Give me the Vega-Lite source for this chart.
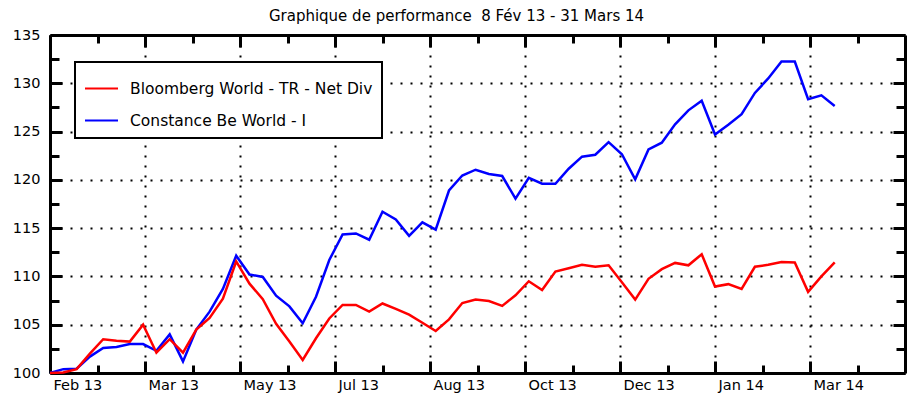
{
  "$schema": "https://vega.github.io/schema/vega-lite/v6.json",
  "width": 855,
  "height": 338,
  "autosize": "none",
  "padding": {"left": 50, "top": 35, "right": 10, "bottom": 34},
  "background": "white",
  "title": {"text": "Graphique de performance \u00a08 Fév 13 - 31 Mars 14", "font": "DejaVu Sans", "fontSize": 15, "fontWeight": "normal", "color": "black", "anchor": "middle", "offset": 3, "dx": -21},
  "datasets": {
    "perf": [
      {"date": "2013-02-08", "c": 100.0, "b": 100.0},
      {"date": "2013-02-15", "c": 100.4, "b": 100.05},
      {"date": "2013-02-22", "c": 100.45, "b": 100.4},
      {"date": "2013-03-01", "c": 101.7, "b": 102.0},
      {"date": "2013-03-08", "c": 102.6, "b": 103.5},
      {"date": "2013-03-15", "c": 102.7, "b": 103.35},
      {"date": "2013-03-22", "c": 103.0, "b": 103.25},
      {"date": "2013-03-29", "c": 103.0, "b": 105.0},
      {"date": "2013-04-05", "c": 102.3, "b": 102.1},
      {"date": "2013-04-12", "c": 104.0, "b": 103.5},
      {"date": "2013-04-19", "c": 101.2, "b": 102.1},
      {"date": "2013-04-26", "c": 104.5, "b": 104.5},
      {"date": "2013-05-03", "c": 106.35, "b": 105.7},
      {"date": "2013-05-10", "c": 108.7, "b": 107.7},
      {"date": "2013-05-17", "c": 112.15, "b": 111.55},
      {"date": "2013-05-24", "c": 110.2, "b": 109.25},
      {"date": "2013-05-31", "c": 109.95, "b": 107.65},
      {"date": "2013-06-07", "c": 108.0, "b": 105.1},
      {"date": "2013-06-14", "c": 106.9, "b": 103.25},
      {"date": "2013-06-21", "c": 105.15, "b": 101.35},
      {"date": "2013-06-28", "c": 107.9, "b": 103.6},
      {"date": "2013-07-05", "c": 111.7, "b": 105.65},
      {"date": "2013-07-12", "c": 114.35, "b": 107.05},
      {"date": "2013-07-19", "c": 114.45, "b": 107.05},
      {"date": "2013-07-26", "c": 113.8, "b": 106.35},
      {"date": "2013-08-02", "c": 116.7, "b": 107.2},
      {"date": "2013-08-09", "c": 115.9, "b": 106.65},
      {"date": "2013-08-16", "c": 114.2, "b": 106.05},
      {"date": "2013-08-23", "c": 115.6, "b": 105.2},
      {"date": "2013-08-30", "c": 114.85, "b": 104.35},
      {"date": "2013-09-06", "c": 118.9, "b": 105.55},
      {"date": "2013-09-13", "c": 120.45, "b": 107.25},
      {"date": "2013-09-20", "c": 121.05, "b": 107.6},
      {"date": "2013-09-27", "c": 120.6, "b": 107.45},
      {"date": "2013-10-04", "c": 120.4, "b": 106.95},
      {"date": "2013-10-11", "c": 118.05, "b": 108.05},
      {"date": "2013-10-18", "c": 120.2, "b": 109.5},
      {"date": "2013-10-25", "c": 119.6, "b": 108.6},
      {"date": "2013-11-01", "c": 119.6, "b": 110.5},
      {"date": "2013-11-08", "c": 121.15, "b": 110.85},
      {"date": "2013-11-15", "c": 122.4, "b": 111.2},
      {"date": "2013-11-22", "c": 122.6, "b": 111.0},
      {"date": "2013-11-29", "c": 123.9, "b": 111.15},
      {"date": "2013-12-06", "c": 122.65, "b": 109.4},
      {"date": "2013-12-13", "c": 120.05, "b": 107.6},
      {"date": "2013-12-20", "c": 123.15, "b": 109.75},
      {"date": "2013-12-27", "c": 123.85, "b": 110.75},
      {"date": "2014-01-03", "c": 125.75, "b": 111.4},
      {"date": "2014-01-10", "c": 127.2, "b": 111.15},
      {"date": "2014-01-17", "c": 128.2, "b": 112.3},
      {"date": "2014-01-24", "c": 124.7, "b": 108.95},
      {"date": "2014-01-31", "c": 125.7, "b": 109.2},
      {"date": "2014-02-07", "c": 126.8, "b": 108.7},
      {"date": "2014-02-14", "c": 129.0, "b": 111.0},
      {"date": "2014-02-21", "c": 130.5, "b": 111.2},
      {"date": "2014-02-28", "c": 132.25, "b": 111.5},
      {"date": "2014-03-07", "c": 132.25, "b": 111.45},
      {"date": "2014-03-14", "c": 128.35, "b": 108.4},
      {"date": "2014-03-21", "c": 128.75, "b": 110.0},
      {"date": "2014-03-28", "c": 127.65, "b": 111.45}
    ]
  },
  "data": {"name": "perf"},
  "transform": [
    {"fold": ["c", "b"], "as": ["key", "value"]},
    {"lookup": "key", "from": {"data": {"values": [{"key": "b", "series": "Bloomberg World - TR - Net Div"}, {"key": "c", "series": "Constance Be World - I"}]}, "key": "key", "fields": ["series"]}}
  ],
  "encoding": {
    "color": {
      "field": "series",
      "type": "nominal",
      "scale": {"domain": ["Bloomberg World - TR - Net Div", "Constance Be World - I"], "range": ["#ff0000", "#0000ff"]},
      "legend": {"title": null, "orient": "none", "legendX": 25, "legendY": 27, "direction": "vertical", "symbolType": "stroke", "symbolSize": 1089, "symbolStrokeWidth": 2, "labelFont": "DejaVu Sans", "labelFontSize": 15.5, "labelColor": "black", "labelOffset": 11, "padding": 9, "rowPadding": 6, "strokeColor": "black", "fillColor": "white", "labelLimit": 400}
    }
  },
  "layer": [
    {
      "transform": [{"filter": "datum.key == 'c'"}],
      "mark": {"type": "line", "strokeWidth": 2.5},
      "encoding": {
        "x": {
          "field": "date", "type": "temporal",
          "scale": {"type": "utc", "domain": [{"year": 2013, "month": 2, "date": 8, "utc": true}, {"year": 2014, "month": 5, "date": 4, "utc": true}]},
          "axis": {
            "orient": "bottom", "title": null,
            "values": [
              {"year": 2013, "month": 2, "date": 8, "utc": true}, {"year": 2013, "month": 3, "date": 5, "utc": true},
              {"year": 2013, "month": 3, "date": 30, "utc": true}, {"year": 2013, "month": 4, "date": 24, "utc": true},
              {"year": 2013, "month": 5, "date": 19, "utc": true}, {"year": 2013, "month": 6, "date": 13, "utc": true},
              {"year": 2013, "month": 7, "date": 8, "utc": true}, {"year": 2013, "month": 8, "date": 2, "utc": true},
              {"year": 2013, "month": 8, "date": 27, "utc": true}, {"year": 2013, "month": 9, "date": 21, "utc": true},
              {"year": 2013, "month": 10, "date": 16, "utc": true}, {"year": 2013, "month": 11, "date": 10, "utc": true},
              {"year": 2013, "month": 12, "date": 5, "utc": true}, {"year": 2013, "month": 12, "date": 30, "utc": true},
              {"year": 2014, "month": 1, "date": 24, "utc": true}, {"year": 2014, "month": 2, "date": 18, "utc": true},
              {"year": 2014, "month": 3, "date": 15, "utc": true}, {"year": 2014, "month": 4, "date": 9, "utc": true}
            ],
            "domainColor": "black", "domainWidth": 3,
            "ticks": true, "tickColor": "black", "tickWidth": 3,
            "tickSize": {"condition": {"test": "((datum.value - utc(2013,1,8)) / 86400000) % 50 == 0", "value": -12}, "value": -8},
            "grid": true, "gridColor": "black", "gridDash": [2, 8], "gridWidth": 2,
            "gridOpacity": {"condition": {"test": "((datum.value - utc(2013,1,8)) / 86400000) % 50 == 0", "value": 1}, "value": 0},
            "labelExpr": "((datum.value - utc(2013,1,8)) / 86400000) % 50 == 0 ? utcFormat(datum.value, '%b %y') : ''",
            "labelAlign": "left", "labelBaseline": "top", "labelPadding": 17, "labelOffset": 3,
            "labelFont": "DejaVu Sans", "labelFontSize": 14.5, "labelColor": "black",
            "labelOverlap": false, "labelFlush": false, "labelBound": false
          }
        },
        "y": {
          "field": "value", "type": "quantitative",
          "scale": {"domain": [100, 135], "nice": false, "zero": false},
          "axis": {
            "orient": "left", "title": null,
            "values": [100, 102.5, 105, 107.5, 110, 112.5, 115, 117.5, 120, 122.5, 125, 127.5, 130, 132.5, 135],
            "domainColor": "black", "domainWidth": 3,
            "tickColor": "black", "tickWidth": 3,
            "tickSize": {"condition": {"test": "datum.value % 5 == 0", "value": -12}, "value": -9},
            "grid": true, "gridColor": "black", "gridDash": [2, 8], "gridWidth": 2,
            "gridOpacity": {"condition": {"test": "datum.value % 5 == 0 && datum.value > 100 && datum.value < 135", "value": 1}, "value": 0},
            "labelExpr": "datum.value % 5 == 0 ? datum.label : ''",
            "labelPadding": 22, "labelFont": "DejaVu Sans", "labelFontSize": 14.5, "labelColor": "black",
            "labelOverlap": false, "labelFlush": false, "labelBound": false
          }
        }
      }
    },
    {
      "transform": [{"filter": "datum.key == 'b'"}],
      "mark": {"type": "line", "strokeWidth": 2.5},
      "encoding": {
        "x": {
          "field": "date", "type": "temporal",
          "scale": {"type": "utc", "domain": [{"year": 2013, "month": 2, "date": 8, "utc": true}, {"year": 2014, "month": 5, "date": 4, "utc": true}]},
          "axis": {
            "orient": "top", "title": null, "labels": false, "grid": false,
            "values": [
              {"year": 2013, "month": 2, "date": 8, "utc": true}, {"year": 2013, "month": 3, "date": 5, "utc": true},
              {"year": 2013, "month": 3, "date": 30, "utc": true}, {"year": 2013, "month": 4, "date": 24, "utc": true},
              {"year": 2013, "month": 5, "date": 19, "utc": true}, {"year": 2013, "month": 6, "date": 13, "utc": true},
              {"year": 2013, "month": 7, "date": 8, "utc": true}, {"year": 2013, "month": 8, "date": 2, "utc": true},
              {"year": 2013, "month": 8, "date": 27, "utc": true}, {"year": 2013, "month": 9, "date": 21, "utc": true},
              {"year": 2013, "month": 10, "date": 16, "utc": true}, {"year": 2013, "month": 11, "date": 10, "utc": true},
              {"year": 2013, "month": 12, "date": 5, "utc": true}, {"year": 2013, "month": 12, "date": 30, "utc": true},
              {"year": 2014, "month": 1, "date": 24, "utc": true}, {"year": 2014, "month": 2, "date": 18, "utc": true},
              {"year": 2014, "month": 3, "date": 15, "utc": true}, {"year": 2014, "month": 4, "date": 9, "utc": true}
            ],
            "domainColor": "black", "domainWidth": 3,
            "tickColor": "black", "tickWidth": 3,
            "tickSize": {"condition": {"test": "((datum.value - utc(2013,1,8)) / 86400000) % 50 == 0", "value": -12}, "value": -8}
          }
        },
        "y": {
          "field": "value", "type": "quantitative",
          "scale": {"domain": [100, 135], "nice": false, "zero": false},
          "axis": {
            "orient": "right", "title": null, "labels": false, "grid": false,
            "values": [100, 102.5, 105, 107.5, 110, 112.5, 115, 117.5, 120, 122.5, 125, 127.5, 130, 132.5, 135],
            "domainColor": "black", "domainWidth": 3,
            "tickColor": "black", "tickWidth": 3,
            "tickSize": {"condition": {"test": "datum.value % 5 == 0", "value": -12}, "value": -9}
          }
        }
      }
    }
  ],
  "resolve": {"axis": {"x": "independent", "y": "independent"}},
  "config": {
    "view": {"stroke": null},
    "legend": {"strokeWidth": 2}
  }
}
